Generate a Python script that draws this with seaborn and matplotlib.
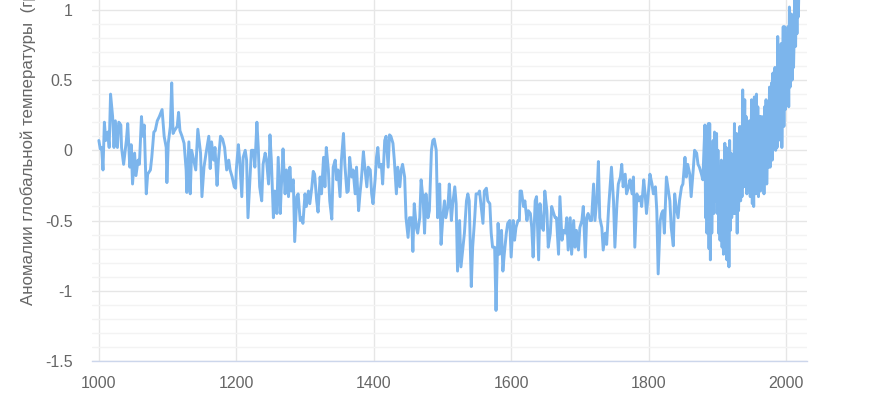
# global temperature anomalies, year 1000 to 2020
import pandas as pd
import seaborn as sns
import matplotlib.pyplot as plt
from matplotlib.ticker import MultipleLocator, FuncFormatter

# values
years = [
    1000, 1002, 1004, 1006, 1008, 1010, 1013, 1015, 1017, 1020,
    1022, 1024, 1027, 1029, 1032, 1033, 1036, 1040, 1042, 1045,
    1047, 1049, 1052, 1054, 1057, 1059, 1062, 1064, 1066, 1069,
    1071, 1075, 1077, 1080, 1082, 1085, 1088, 1092, 1095, 1098,
    1099, 1101, 1104, 1106, 1108, 1110, 1114, 1116, 1118, 1121,
    1124, 1127, 1128, 1131, 1133, 1135, 1138, 1141, 1144, 1148,
    1150, 1153, 1156, 1160, 1162, 1164, 1167, 1169, 1172, 1174,
    1177, 1180, 1183, 1186, 1189, 1191, 1194, 1197, 1199,
    1200, 1203, 1205, 1208, 1210, 1213, 1215, 1217, 1220, 1222,
    1225, 1227, 1230, 1232, 1234, 1237, 1239, 1242, 1244, 1247,
    1249, 1251, 1254, 1256, 1259, 1261, 1264, 1266, 1268, 1271,
    1273, 1276, 1278, 1280, 1283, 1285, 1288, 1290, 1293, 1295,
    1297, 1300, 1302, 1305, 1307, 1310, 1312, 1314, 1317, 1319,
    1322, 1324, 1327, 1329, 1331, 1334, 1336, 1339, 1341, 1344,
    1346, 1348, 1351, 1353, 1356, 1358, 1361, 1363, 1365, 1368,
    1370, 1373, 1375, 1378, 1380, 1382, 1385, 1387, 1390, 1392,
    1395, 1397, 1399, 1402, 1404,
    1406, 1408, 1411, 1413, 1416, 1418, 1421, 1423, 1425, 1428,
    1430, 1433, 1435, 1438, 1440, 1442, 1445, 1447, 1450, 1452,
    1455, 1457, 1459, 1462, 1464, 1467, 1469, 1472, 1474, 1476,
    1479, 1481, 1484, 1486, 1488, 1491, 1493, 1496, 1498, 1501,
    1503, 1505, 1508, 1510, 1513, 1515, 1518, 1520, 1522, 1525,
    1527, 1530, 1532, 1535, 1537, 1539, 1542, 1544, 1547, 1549,
    1552, 1554, 1556, 1559, 1561, 1564, 1566, 1569, 1571, 1573,
    1576, 1578, 1581, 1583, 1586, 1588, 1590, 1593, 1595, 1598,
    1600, 1603, 1605, 1607, 1610, 1612,
    1613, 1615, 1618, 1620, 1623, 1625, 1628, 1630, 1632, 1635,
    1637, 1640, 1642, 1645, 1647, 1649, 1652, 1654, 1657, 1659,
    1662, 1664, 1666, 1669, 1671, 1674, 1676, 1679, 1681, 1683,
    1686, 1688, 1691, 1693, 1695, 1698, 1700, 1703, 1705, 1708,
    1710, 1712, 1715, 1717, 1720, 1722, 1725, 1727, 1729, 1732,
    1734, 1737, 1739, 1742, 1744, 1746, 1749, 1751, 1754, 1756,
    1759, 1761, 1763, 1766, 1768, 1771, 1773, 1776, 1778, 1780,
    1783, 1785, 1788, 1790, 1793, 1795, 1797, 1800, 1802, 1805,
    1807, 1810, 1812, 1814, 1817, 1819,
    1821, 1823, 1826, 1828, 1831, 1833, 1836, 1838, 1840, 1843,
    1845, 1848, 1850, 1853, 1855, 1857, 1860, 1862, 1865, 1867,
    1870, 1872, 1874, 1877, 1879,
    1882, 1883, 1884, 1885, 1887, 1888, 1889, 1890, 1891, 1892,
    1894, 1895, 1896, 1897, 1899, 1900, 1901, 1902, 1903, 1904,
    1906, 1907, 1908, 1909, 1911, 1912, 1913, 1914, 1916, 1917,
    1918, 1919, 1920, 1921, 1923, 1924, 1925, 1926, 1928, 1929,
    1930, 1931, 1933, 1934, 1935, 1936, 1937, 1938, 1940, 1941,
    1942, 1943, 1945, 1946, 1947, 1948, 1950, 1951, 1952, 1953,
    1954, 1955, 1957, 1958, 1959, 1960, 1962, 1963, 1964, 1965,
    1967, 1968, 1969, 1970, 1971, 1972, 1974, 1975, 1976, 1977,
    1979, 1980, 1981, 1982, 1984, 1985, 1986, 1987, 1988, 1989,
    1991, 1992, 1993, 1994, 1996, 1997, 1998, 1999, 2001, 2002,
    2003, 2004, 2005, 2006, 2008, 2009, 2010, 2011, 2013, 2014,
    2015, 2016, 2017, 2018, 2019, 2020,
]

anomaly = [
    0.07, 0.01, 0.02, -0.14, 0.20, 0.07, 0.13, 0.02, 0.40, 0.24,
    0.02, 0.21, 0.02, 0.20, 0.18, 0.02, -0.10, 0.07, 0.19, -0.12,
    0.04, -0.24, -0.02, -0.18, -0.07, -0.10, 0.24, 0.10, 0.18, -0.31,
    -0.17, -0.14, -0.05, 0.13, 0.14, 0.21, 0.24, 0.29, 0.10, 0.02,
    -0.23, 0.05, 0.17, 0.48, 0.12, 0.14, 0.17, 0.27, 0.14, 0.10,
    0.05, -0.14, -0.30, 0.06, -0.31, 0.00, -0.07, -0.14, 0.15, -0.02,
    -0.33, -0.12, -0.02, 0.10, -0.13, 0.06, -0.07, 0.02, -0.25, -0.07,
    0.10, 0.08, 0.02, -0.14, -0.07, -0.14, -0.19, -0.26, -0.27,
    -0.14, 0.04, -0.07, -0.33, -0.05, 0.00, -0.07, -0.48, -0.19, 0.00,
    0.00, -0.12, 0.20, 0.02, -0.26, -0.36, -0.10, -0.02, -0.07, -0.24,
    0.11, -0.07, -0.48, -0.29, -0.45, -0.05, -0.45, -0.21, 0.01, -0.31,
    -0.14, -0.33, -0.12, -0.29, -0.21, -0.65, -0.33, -0.31, -0.50, -0.48,
    -0.52, -0.31, -0.40, -0.29, -0.38, -0.26, -0.15, -0.17, -0.36, -0.44,
    -0.19, -0.31, -0.05, -0.26, 0.02, -0.14, -0.36, -0.49, -0.12, -0.07,
    -0.21, -0.14, -0.33, -0.07, 0.12, -0.10, -0.30, -0.29, -0.05, -0.19,
    -0.14, -0.31, -0.12, -0.43, -0.31, -0.21, -0.01, -0.12, -0.26, -0.12,
    -0.14, -0.31, -0.38, -0.21, -0.05,
    0.02, -0.12, -0.10, -0.24, 0.07, 0.10, -0.12, 0.11, 0.10, 0.05,
    -0.07, -0.31, -0.12, -0.26, -0.14, -0.10, -0.19, -0.48, -0.62, -0.48,
    -0.48, -0.72, -0.38, -0.55, -0.59, -0.48, -0.21, -0.36, -0.59, -0.31,
    -0.48, -0.43, 0.00, 0.07, 0.08, 0.00, -0.48, -0.24, -0.67, -0.45,
    -0.36, -0.48, -0.40, -0.24, -0.50, -0.38, -0.26, -0.38, -0.86, -0.50,
    -0.83, -0.69, -0.59, -0.36, -0.31, -0.36, -0.97, -0.69, -0.48, -0.31,
    -0.31, -0.29, -0.38, -0.52, -0.29, -0.27, -0.36, -0.38, -0.59, -0.69,
    -0.69, -1.14, -0.52, -0.74, -0.57, -0.86, -0.74, -0.59, -0.52, -0.50,
    -0.76, -0.50, -0.64, -0.55, -0.50, -0.50,
    -0.29, -0.29, -0.40, -0.36, -0.50, -0.43, -0.45, -0.55, -0.76, -0.36,
    -0.33, -0.78, -0.38, -0.55, -0.57, -0.29, -0.43, -0.69, -0.59, -0.40,
    -0.45, -0.48, -0.48, -0.74, -0.33, -0.64, -0.57, -0.59, -0.48, -0.71,
    -0.48, -0.74, -0.50, -0.69, -0.57, -0.71, -0.55, -0.50, -0.40, -0.76,
    -0.48, -0.45, -0.50, -0.50, -0.24, -0.50, -0.33, -0.08, -0.48, -0.55,
    -0.71, -0.59, -0.67, -0.40, -0.26, -0.12, -0.36, -0.69, -0.38, -0.24,
    -0.19, -0.10, -0.26, -0.17, -0.31, -0.26, -0.21, -0.31, -0.19, -0.69,
    -0.31, -0.36, -0.33, -0.40, -0.21, -0.31, -0.45, -0.29, -0.17, -0.24,
    -0.31, -0.26, -0.43, -0.88, -0.50, -0.45,
    -0.43, -0.59, -0.19, -0.26, -0.36, -0.55, -0.68, -0.31, -0.40, -0.48,
    -0.36, -0.26, -0.24, -0.05, -0.19, -0.10, -0.17, -0.33, -0.14, 0.00,
    -0.02, -0.10, -0.12, -0.17, -0.21,
    0.18, -0.48, 0.17, -0.59, 0.19, -0.70, 0.19, -0.78, 0.00, -0.59,
    0.07, -0.45, 0.13, -0.36, 0.12, -0.45, 0.00, -0.59, -0.12, -0.64,
    -0.07, -0.69, -0.12, -0.74, 0.05, -0.59, 0.02, -0.78, -0.05, -0.83,
    0.07, -0.57, -0.02, -0.48, -0.07, -0.45, 0.19, -0.45, 0.12, -0.59,
    0.10, -0.43, 0.17, -0.36, 0.07, -0.33, 0.43, -0.26, 0.36, -0.26,
    0.24, -0.31, 0.12, -0.26, 0.21, -0.33, 0.36, -0.38, 0.12, -0.40,
    0.38, -0.31, 0.40, -0.31, 0.31, -0.33, 0.24, -0.29, 0.24, -0.24,
    0.24, -0.31, 0.31, -0.21, 0.36, -0.24, 0.29, -0.12, 0.45, -0.12,
    0.48, -0.07, 0.55, 0.07, 0.59, 0.00, 0.57, 0.02, 0.81, 0.07,
    0.67, 0.12, 0.76, 0.02, 0.88, 0.17, 0.88, 0.29, 0.83, 0.33,
    0.88, 0.31, 1.02, 0.45, 0.97, 0.50, 0.90, 0.59, 1.07, 0.74,
    1.10, 0.83, 1.15, 0.95, 1.20, 1.28,
]

# the reference crops this label at the top edge
y_label = "Аномалии глобальной температуры  (градусы Цельсия)"

data = pd.DataFrame({"year": years, "anomaly": anomaly})

sns.set_theme(style="white")
plt.rcParams["font.family"] = ["Liberation Sans", "DejaVu Sans"]
plt.rcParams["axes.unicode_minus"] = False

fig = plt.figure(figsize=(8.7, 4), dpi=100)
ax = fig.add_axes([92 / 870, 39 / 400, 715 / 870, 361 / 400])

sns.lineplot(
    data=data,
    x="year",
    y="anomaly",
    ax=ax,
    color="#7cb5ec",
    linewidth=2.1,
    estimator=None,
    sort=False,
)

ax.set_xlim(990, 2030.6)
ax.set_ylim(-1.5, 1.07)
ax.set_xlabel("")
ax.set_ylabel("")

ax.xaxis.set_major_locator(MultipleLocator(200))
ax.yaxis.set_major_locator(MultipleLocator(0.5))
ax.yaxis.set_minor_locator(MultipleLocator(0.1))
ax.yaxis.set_major_formatter(FuncFormatter(lambda v, p: f"{v:g}"))

ax.grid(which="major", axis="both", color="#e6e6e6", linewidth=1)
ax.grid(which="minor", axis="y", color="#f3f3f3", linewidth=1)
ax.set_axisbelow(True)

for side in ["top", "right", "left"]:
    ax.spines[side].set_visible(False)
ax.spines["bottom"].set_color("#ccd6eb")
ax.spines["bottom"].set_linewidth(1)

ax.tick_params(axis="x", which="major", length=7, width=1, color="#ccd6eb",
               labelcolor="#666666", labelsize=11.5, pad=4)
ax.tick_params(axis="y", which="both", length=0, labelcolor="#666666",
               labelsize=11.5, pad=14)

fig.text(28 / 870, 95 / 400, y_label, rotation=90, ha="center", va="bottom",
         color="#666666", fontsize=12.2)

fig.savefig("out.png", dpi=100, facecolor="white")
